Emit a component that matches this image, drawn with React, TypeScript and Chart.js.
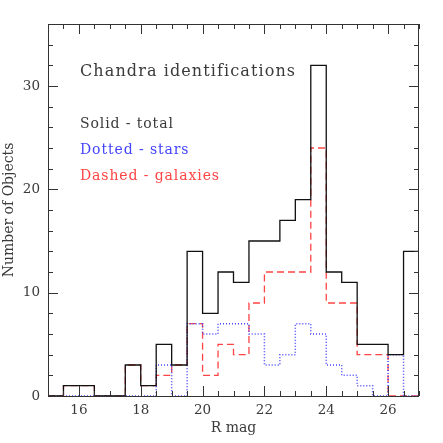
import React, { useEffect, useRef } from "react";
import { Chart, registerables } from "chart.js";
Chart.register(...registerables);

// Bin edges (R mag), 0.5 mag bins
const binEdges = [15, 15.5, 16, 16.5, 17, 17.5, 18, 18.5, 19, 19.5, 20, 20.5, 21, 21.5, 22, 22.5, 23, 23.5, 24, 24.5, 25, 25.5, 26, 26.5, 27];
// Counts per bin
const totalCounts = [0, 1, 1, 0, 0, 3, 1, 5, 3, 14, 8, 12, 11, 15, 15, 17, 19, 32, 12, 11, 5, 5, 4, 14];
const starCounts = [0, 0, 0, 0, 0, 0, 0, 3, 0, 7, 6, 7, 7, 6, 3, 4, 7, 6, 3, 2, 1, 0, 4, 0];
const galaxyCounts = [0, 1, 1, 0, 0, 3, 1, 2, 3, 7, 2, 5, 4, 9, 12, 12, 12, 24, 9, 9, 4, 4, 0, 0];

const xTickValues = [16, 18, 20, 22, 24, 26];
const yTickValues = [0, 10, 20, 30];
const xMinorStep = 0.5;
const yMinorStep = 2;

const titleText = "Chandra identifications";
const legendTexts = ["Solid - total", "Dotted - stars", "Dashed - galaxies"];

const BLACK = "#111111";
const BLUE = "#4444ff";
const RED = "#ff4444";
const TEXT = "#3a3a3a";
const FONT = '"DejaVu Serif", serif';

function toSteps(counts: number[]) {
  return binEdges.map((e, i) => ({ x: e, y: i < counts.length ? counts[i] : counts[counts.length - 1] }));
}

const framePlugin = {
  id: "framePlugin",
  afterDatasetsDraw(chart: any) {
    const { ctx, chartArea: a, scales } = chart;
    const xs = scales.x;
    const ys = scales.y;
    ctx.save();
    ctx.strokeStyle = "#333";
    ctx.lineWidth = 1;
    ctx.beginPath();
    ctx.rect(a.left + 0.5, a.top + 0.5, a.right - a.left - 1, a.bottom - a.top);
    ctx.stroke();
    ctx.beginPath();
    for (let v = xs.min; v <= xs.max + 1e-9; v += xMinorStep) {
      const major = xTickValues.indexOf(v) >= 0;
      const len = major ? 10 : 5;
      const px = Math.round(xs.getPixelForValue(v)) + 0.5;
      ctx.moveTo(px, a.bottom);
      ctx.lineTo(px, a.bottom - len);
      ctx.moveTo(px, a.top);
      ctx.lineTo(px, a.top + len);
    }
    for (let v = ys.min; v <= ys.max + 1e-9; v += yMinorStep) {
      const major = yTickValues.indexOf(v) >= 0;
      const len = major ? 10 : 5;
      const py = Math.round(ys.getPixelForValue(v)) + 0.5;
      ctx.moveTo(a.left, py);
      ctx.lineTo(a.left + len, py);
      ctx.moveTo(a.right, py);
      ctx.lineTo(a.right - len, py);
    }
    ctx.stroke();

    // title and legend text
    ctx.textBaseline = "alphabetic";
    ctx.textAlign = "left";
    ctx.fillStyle = TEXT;
    ctx.font = "16px " + FONT;
    try { (ctx as any).letterSpacing = "1.1px"; } catch (e) {}
    ctx.fillText(titleText, a.left + 32, a.top + 52);
    ctx.font = "14px " + FONT;
    try { (ctx as any).letterSpacing = "0.9px"; } catch (e) {}
    const colors = [TEXT, BLUE, RED];
    legendTexts.forEach((t, i) => {
      ctx.fillStyle = colors[i];
      ctx.fillText(t, a.left + 32, a.top + 103.5 + i * 26);
    });
    ctx.restore();
  },
};

export default function App() {
  const ref = useRef<HTMLCanvasElement>(null);
  useEffect(() => {
    document.body.style.margin = "0";
    const chart = new Chart(ref.current!, {
      type: "line",
      data: {
        datasets: [
          { data: toSteps(totalCounts), borderColor: BLACK, borderWidth: 1.3, stepped: "before", pointRadius: 0, fill: false },
          { data: toSteps(starCounts), borderColor: BLUE, borderWidth: 1.5, borderDash: [1, 2], stepped: "before", pointRadius: 0, fill: false },
          { data: toSteps(galaxyCounts), borderColor: RED, borderWidth: 1.3, borderDash: [7, 4], stepped: "before", pointRadius: 0, fill: false },
        ] as any,
      },
      options: {
        animation: false,
        responsive: false,
        devicePixelRatio: 1,
        layout: { padding: { top: 24, right: 24, left: 0, bottom: 0 } },
        plugins: { legend: { display: false }, tooltip: { enabled: false } },
        scales: {
          x: {
            type: "linear",
            min: 15,
            max: 27,
            afterBuildTicks: (s: any) => { s.ticks = xTickValues.map((v) => ({ value: v })); },
            afterFit: (s: any) => { s.height = 47; },
            grid: { display: false, drawTicks: false },
            border: { display: false },
            ticks: { color: TEXT, font: { family: FONT, size: 13.5 }, padding: 6, maxRotation: 0, autoSkip: false },
            title: { display: true, text: "R mag", color: TEXT, font: { family: FONT, size: 14 }, padding: { top: 0, bottom: 6 } },
          },
          y: {
            type: "linear",
            min: 0,
            max: 36,
            afterBuildTicks: (s: any) => { s.ticks = yTickValues.map((v) => ({ value: v })); },
            afterFit: (s: any) => { s.width = 48; },
            grid: { display: false, drawTicks: false },
            border: { display: false },
            ticks: { color: TEXT, font: { family: FONT, size: 13.5 }, padding: 8, autoSkip: false },
            title: { display: true, text: "Number of Objects", color: TEXT, font: { family: FONT, size: 14 }, padding: { top: 1, bottom: 0 } },
          },
        },
      },
      plugins: [framePlugin],
    });
    return () => chart.destroy();
  }, []);
  return (
    <div style={{ width: 443, height: 443 }}>
      <canvas ref={ref} width={443} height={443} style={{ display: "block" }} />
    </div>
  );
}
